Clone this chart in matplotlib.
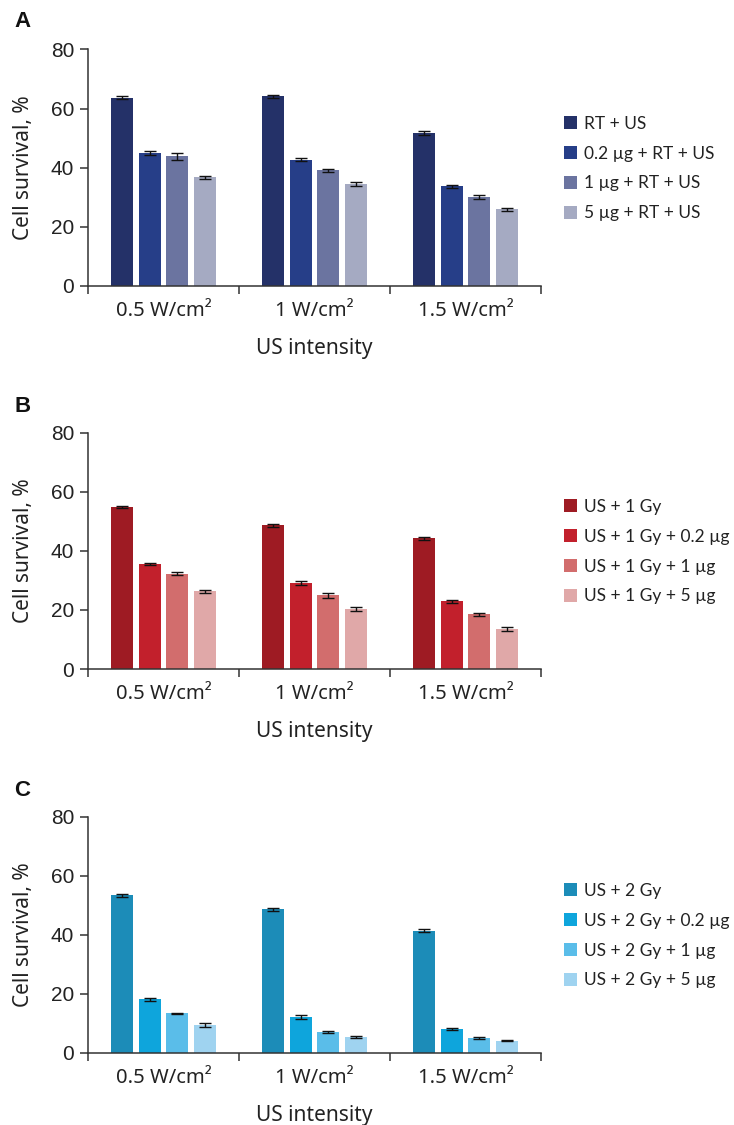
import numpy as np
from matplotlib import pyplot as plt
from matplotlib.patches import Patch

intensities = ['0.5 W/cm²', '1 W/cm²', '1.5 W/cm²']

# panel A
labels_a = ['RT + US', '0.2 µg + RT + US', '1 µg + RT + US', '5 µg + RT + US']
vals_a = [[63.6, 64.2, 51.7],
          [45.1, 42.7, 33.8],
          [43.9, 39.1, 30.1],
          [36.7, 34.4, 25.9]]
err_a = [[0.5, 0.5, 0.6],
         [0.7, 0.5, 0.5],
         [1.2, 0.6, 0.6],
         [0.6, 0.7, 0.5]]
colors_a = ['#243168', '#263e88', '#6b74a0', '#a5aac2']

# panel B
labels_b = ['US + 1 Gy', 'US + 1 Gy + 0.2 µg', 'US + 1 Gy + 1 µg', 'US + 1 Gy + 5 µg']
vals_b = [[54.9, 48.6, 44.3],
          [35.6, 29.1, 23.0],
          [32.3, 24.9, 18.6],
          [26.3, 20.4, 13.5]]
err_b = [[0.4, 0.4, 0.5],
         [0.4, 0.6, 0.5],
         [0.5, 0.7, 0.5],
         [0.5, 0.6, 0.6]]
colors_b = ['#9e1b23', '#c2202c', '#d26d6d', '#e0a8a8']

# panel C
labels_c = ['US + 2 Gy', 'US + 2 Gy + 0.2 µg', 'US + 2 Gy + 1 µg', 'US + 2 Gy + 5 µg']
vals_c = [[53.3, 48.7, 41.3],
          [18.2, 12.2, 8.1],
          [13.4, 7.1, 5.1],
          [9.6, 5.4, 4.2]]
err_c = [[0.6, 0.5, 0.5],
         [0.5, 0.6, 0.4],
         [0.3, 0.4, 0.3],
         [0.7, 0.2, 0.2]]
colors_c = ['#1c8cb8', '#0ea5dc', '#5abde9', '#9fd3f0']

panels = [('A', labels_a, vals_a, err_a, colors_a, 0.7458, 1 - 11 / 1125),
          ('B', labels_b, vals_b, err_b, colors_b, 0.4053, 1 - 396 / 1125),
          ('C', labels_c, vals_c, err_c, colors_c, 0.0640, 1 - 780 / 1125)]

fig = plt.figure(figsize=(7.34, 11.25), dpi=100)
txt = '#222222'
x = np.arange(len(intensities))
pitch = 0.182
width = 0.144

for letter, labels, vals, errs, colors, bottom, ly in panels:
    ax = fig.add_axes([88 / 734, bottom, 453 / 734, 0.2102])
    for i in range(4):
        ax.bar(x + (i - 1.5) * pitch, vals[i], width, color=colors[i],
               yerr=errs[i], capsize=4.5, ecolor='#111111',
               error_kw=dict(elinewidth=1.0, capthick=1.0))
    ax.set_xlim(-0.5, 2.5)
    ax.set_ylim(0, 80)
    ax.set_yticks([0, 20, 40, 60, 80])
    ax.set_yticklabels(['0', '20', '40', '60', '80'], family='Liberation Sans',
                       fontsize=15, color=txt)
    ax.spines['top'].set_visible(False)
    ax.spines['right'].set_visible(False)
    for s in ['left', 'bottom']:
        ax.spines[s].set_color('#333333')
        ax.spines[s].set_linewidth(1.1)
    ax.tick_params(axis='y', length=6, width=1.1, color='#333333', pad=4)
    ax.set_xticks(x)
    ax.set_xticklabels(intensities, family='Noto Sans', fontsize=14.5, color=txt)
    ax.tick_params(axis='x', which='major', length=0, pad=11)
    ax.set_xticks([-0.5, 0.5, 1.5, 2.5], minor=True)
    ax.tick_params(axis='x', which='minor', length=6, width=1.1, color='#333333')
    ax.set_xlabel('US intensity', family='Noto Sans', fontsize=15, color=txt, labelpad=12)
    ax.set_ylabel('Cell survival, %', family='Noto Sans', fontsize=15, color=txt, labelpad=12)

    handles = [Patch(facecolor=c, edgecolor='none') for c in colors]
    ax.legend(handles, labels, loc='upper left', bbox_to_anchor=(1.051, 0.72),
              frameon=False, handlelength=0.75, handleheight=0.75, handletextpad=0.4,
              labelspacing=0.8, prop=dict(family='Lato', size=12.5), labelcolor=txt,
              borderaxespad=0, borderpad=0)

    fig.text(14 / 734, ly, letter, fontsize=16, fontweight='bold', family='Liberation Sans',
             color='#111111', va='top', ha='left')

fig.savefig('out.png', dpi=100)
